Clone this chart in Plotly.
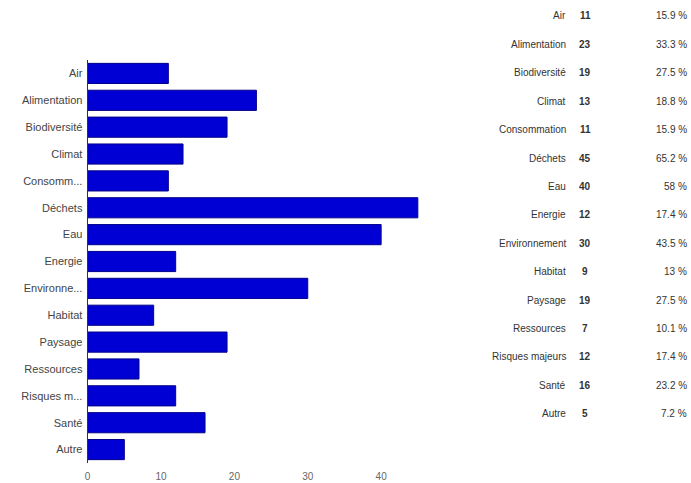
import plotly.graph_objects as go

categories = ["Air", "Alimentation", "Biodiversité", "Climat", "Consommation", "Déchets", "Eau",
              "Energie", "Environnement", "Habitat", "Paysage", "Ressources", "Risques majeurs",
              "Santé", "Autre"]
tick_labels = ["Air", "Alimentation", "Biodiversité", "Climat", "Consomm...", "Déchets", "Eau",
               "Energie", "Environne...", "Habitat", "Paysage", "Ressources", "Risques m...",
               "Santé", "Autre"]
counts = [11, 23, 19, 13, 11, 45, 40, 12, 30, 9, 19, 7, 12, 16, 5]
percents = ["15.9 %", "33.3 %", "27.5 %", "18.8 %", "15.9 %", "65.2 %", "58 %", "17.4 %",
            "43.5 %", "13 %", "27.5 %", "10.1 %", "17.4 %", "23.2 %", "7.2 %"]
x_ticks = [0, 10, 20, 30, 40]

W, H = 691, 483
FONT = "Liberation Sans, Arial, sans-serif"

fig = go.Figure()
fig.add_trace(go.Bar(
    y=categories, x=counts, orientation="h",
    marker=dict(color="#0000d4", line=dict(color="#00008a", width=1)),
    hoverinfo="x+y",
))

fig.update_layout(
    width=W, height=H, autosize=False,
    margin=dict(l=0, r=0, t=0, b=0),
    paper_bgcolor="white", plot_bgcolor="white",
    showlegend=False,
    bargap=0.25,
    font=dict(family=FONT, size=11, color="#444"),
    xaxis=dict(domain=[85 / W, 424 / W], range=[0, 46], tickvals=x_ticks,
               showgrid=False, zeroline=False, showline=False, ticks="",
               tickfont=dict(size=10, color="#666"), ticklabelstandoff=6),
    yaxis=dict(domain=[(H - 463) / H, (H - 60) / H], categoryorder="array",
               categoryarray=categories, autorange="reversed",
               tickvals=categories, ticktext=tick_labels,
               showgrid=False, zeroline=False, showline=True, linecolor="#333", linewidth=1,
               ticks="", tickfont=dict(size=11, color="#444"), ticklabelstandoff=2),
)

# Table on the right
row0, step = 16, 28.4
for i, (cat, n, p) in enumerate(zip(categories, counts, percents)):
    yp = 1 - (row0 + i * step) / H
    fig.add_annotation(x=567 / W, y=yp, xref="paper", yref="paper", text=cat,
                       xanchor="right", yanchor="middle", showarrow=False,
                       font=dict(size=10, color="#333", family=FONT))
    fig.add_annotation(x=585 / W, y=yp, xref="paper", yref="paper", text=f"<b>{n}</b>",
                       xanchor="center", yanchor="middle", showarrow=False,
                       font=dict(size=10, color="#333", family=FONT))
    fig.add_annotation(x=689 / W, y=yp, xref="paper", yref="paper", text=p,
                       xanchor="right", yanchor="middle", showarrow=False,
                       font=dict(size=10, color="#333", family=FONT))

fig.write_html("out.html", config={"displayModeBar": False},
               post_script="document.body.style.margin='0';")
